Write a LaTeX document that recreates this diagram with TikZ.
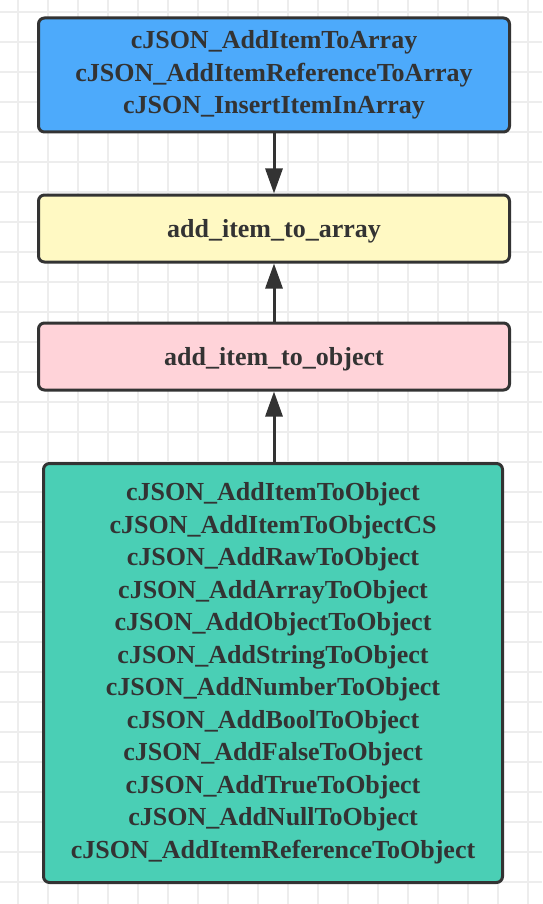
\documentclass[tikz,border=0pt]{standalone}
\usepackage{fontspec}
\setmainfont{Liberation Serif}
\usetikzlibrary{arrows.meta}
\definecolor{gridc}{HTML}{EDEDED}
\definecolor{edgec}{HTML}{333333}
\definecolor{bluec}{HTML}{4DAAFB}
\definecolor{yellowc}{HTML}{FFF9C3}
\definecolor{pinkc}{HTML}{FFD3D9}
\definecolor{greenc}{HTML}{4ACFB5}
\tikzset{
  box/.style={draw=edgec, line width=3pt, rounded corners=6pt, align=center,
    text=edgec, font=\fontsize{26pt}{32.5pt}\selectfont\bfseries, inner sep=0pt},
  conn/.style={draw=edgec, line width=3pt, -{Triangle[length=25pt,width=17pt]}}
}
\begin{document}
\begin{tikzpicture}[x=1pt,y=-1pt]
\fill[white] (0,0) rectangle (542,904);
\useasboundingbox (0,0) rectangle (542,904);
\foreach \x in {18,48,...,540} \draw[gridc, line width=2pt] (\x,0) -- (\x,904);
\foreach \y in {12,42,...,902} \draw[gridc, line width=2pt] (0,\y) -- (542,\y);
\node[box, fill=bluec, minimum width=471pt, minimum height=114pt] (a) at (274,75)
  {cJSON\_AddItemToArray\\cJSON\_AddItemReferenceToArray\\cJSON\_InsertItemInArray};
\node[box, fill=yellowc, minimum width=471pt, minimum height=67pt, text depth=0pt] (b) at (274,228.5)
  {add\_item\_to\_array};
\node[box, fill=pinkc, minimum width=471pt, minimum height=67pt, text depth=0pt] (c) at (274,356.5)
  {add\_item\_to\_object};
\node[box, fill=greenc, minimum width=459pt, minimum height=419pt] (d) at (273,673)
  {cJSON\_AddItemToObject\\cJSON\_AddItemToObjectCS\\cJSON\_AddRawToObject\\cJSON\_AddArrayToObject\\cJSON\_AddObjectToObject\\cJSON\_AddStringToObject\\cJSON\_AddNumberToObject\\cJSON\_AddBoolToObject\\cJSON\_AddFalseToObject\\cJSON\_AddTrueToObject\\cJSON\_AddNullToObject\\cJSON\_AddItemReferenceToObject};
\draw[conn] (a.south) -- (b.north);
\draw[conn] (c.north) -- (b.south);
\draw[conn] (d.north -| c.south) -- (c.south);
\end{tikzpicture}
\end{document}
